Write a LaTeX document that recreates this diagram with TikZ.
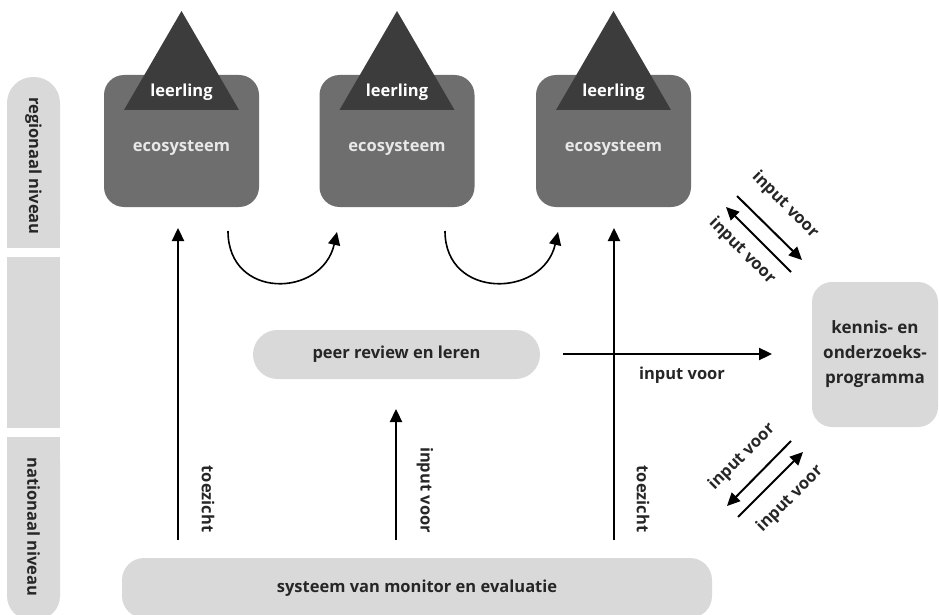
\documentclass[tikz,border=0pt]{standalone}
\usepackage{fontspec}
\setmainfont{Open Sans}
\usetikzlibrary{arrows.meta}
\definecolor{ecog}{HTML}{6E6E6E}
\definecolor{trig}{HTML}{3C3C3C}
\definecolor{lg}{HTML}{D9D9D9}
\definecolor{txt}{HTML}{262626}
\definecolor{ecotxt}{HTML}{E8E8E8}
\begin{document}
\begin{tikzpicture}[x=1pt,y=-1pt,
  lbl/.style={font=\fontsize{16.5}{19}\selectfont\bfseries, text=txt, inner sep=0pt},
  ecobox/.style={fill=ecog, rounded corners=20pt, minimum width=155pt, minimum height=132pt, inner sep=0pt},
  lgbox/.style={fill=lg, inner sep=0pt, font=\fontsize{16.5}{19}\selectfont\bfseries, text=txt},
  arr/.style={line width=2.3pt, -{Triangle[length=13pt,width=12pt]}},
  carr/.style={line width=1.6pt, -{Triangle[length=13pt,width=12pt]}},
  darr/.style={line width=2pt, -{Triangle[length=13pt,width=12pt]}}]
\useasboundingbox (0,0) rectangle (939,615);
% left bar
\fill[lg, rounded corners=26pt] (7,77) rectangle (60,248);
\fill[lg] (7,160) rectangle (60,248);
\fill[lg] (7,257) rectangle (60,428);
\fill[lg, rounded corners=24pt] (7,437) rectangle (60,620);
\fill[lg] (7,437) rectangle (60,540);
\node[lbl, rotate=-90] (reg) at (33.5,166) {regionaal niveau};
\node[lbl, rotate=-90] (nat) at (33.5,527) {nationaal niveau};
% ecosystems
\foreach \i/\cx in {1/181.5,2/397,3/613.5}{
  \node[ecobox] (e\i) at (\cx,141) {};
  \fill[trig] (\cx,11) -- (\cx+57.5,110) -- (\cx-57.5,110) -- cycle;
  \node[lbl, text=white] (l\i) at (\cx,92) {leerling};
  \node[lbl, text=ecotxt] (t\i) at (\cx,148) {ecosysteem};
}
% peer review
\node[lgbox, rounded corners=24.5pt, minimum width=287pt, minimum height=49pt] (peer) at (396.5,354.5) {peer review en leren};
% kennis
\node[lgbox, rounded corners=20pt, minimum width=126pt, minimum height=145pt, align=center, font=\fontsize{17}{25}\selectfont\bfseries] (ken) at (875,354.5) {kennis- en\\onderzoeks-\\programma};
% bottom system
\node[lgbox, rounded corners=22pt, minimum width=590pt, minimum height=60pt] (sys) at (417,588) {systeem van monitor en evaluatie};
% vertical arrows
\coordinate (v1s) at (178,540); \coordinate (v1e) at (178,228);
\coordinate (v2s) at (396,540); \coordinate (v2e) at (396,409);
\coordinate (v3s) at (614,540); \coordinate (v3e) at (614,228);
\draw[arr] (v1s) -- (v1e);
\draw[arr] (v2s) -- (v2e);
\draw[arr] (v3s) -- (v3e);
\node[lbl, rotate=-90] (tz1) at (208,499) {toezicht};
\node[lbl, rotate=-90] (iv1) at (425,490) {input voor};
\node[lbl, rotate=-90] (tz2) at (643,499) {toezicht};
% curved arrows
\coordinate (c1s) at (228,231); \coordinate (c1e) at (337,232);
\coordinate (c2s) at (445,231); \coordinate (c2e) at (558,232);
\draw[carr] (c1s) .. controls (228,300) and (322,298) .. (c1e);
\draw[carr] (c2s) .. controls (445,300) and (543,298) .. (c2e);
% horizontal arrow
\coordinate (hs) at (563,354); \coordinate (he) at (772,354);
\draw[arr] (hs) -- (he);
\node[lbl] (ivh) at (682,375) {input voor};
% upper diagonal pair
\coordinate (d1s) at (737,196); \coordinate (d1e) at (802,260);
\coordinate (d2s) at (791,272); \coordinate (d2e) at (726,207);
\draw[darr] (d1s) -- (d1e);
\draw[darr] (d2s) -- (d2e);
\node[lbl, rotate=-45] (ivu1) at (785,205) {input voor};
\node[lbl, rotate=-45] (ivu2) at (742,251) {input voor};
% lower diagonal pair
\coordinate (d3s) at (791,441); \coordinate (d3e) at (727,506);
\coordinate (d4s) at (738,517); \coordinate (d4e) at (803,452);
\draw[darr] (d3s) -- (d3e);
\draw[darr] (d4s) -- (d4e);
\node[lbl, rotate=45] (ivl1) at (742,457) {input voor};
\node[lbl, rotate=45] (ivl2) at (790,499) {input voor};
\end{tikzpicture}
\end{document}
